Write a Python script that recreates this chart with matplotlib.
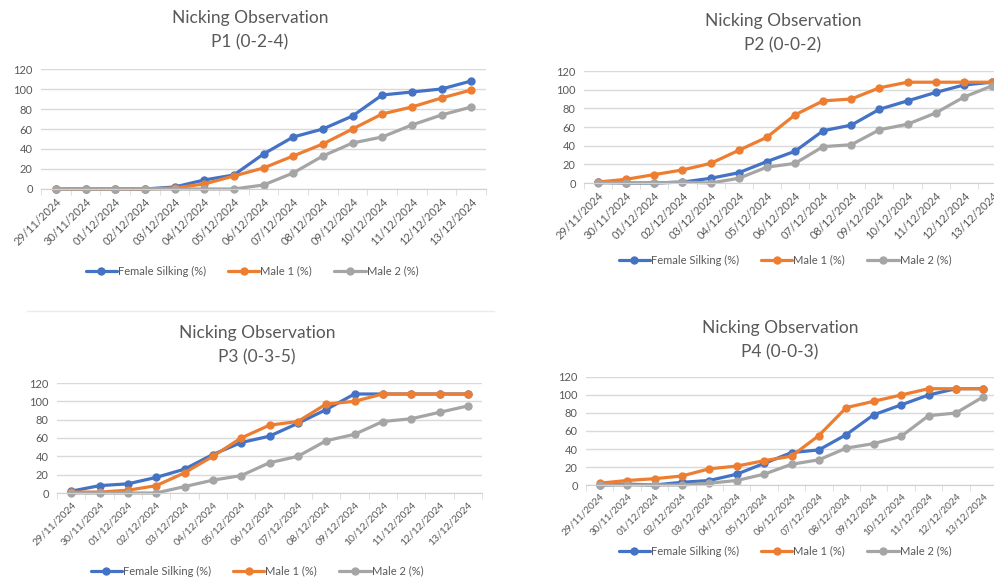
import matplotlib
matplotlib.use("Agg")
import matplotlib.pyplot as plt
from matplotlib.lines import Line2D

plt.rcParams['font.family'] = ['Lato', 'DejaVu Sans']

W, H = 994, 580

dates = ["29/11/2024", "30/11/2024", "01/12/2024", "02/12/2024", "03/12/2024",
         "04/12/2024", "05/12/2024", "06/12/2024", "07/12/2024", "08/12/2024",
         "09/12/2024", "10/12/2024", "11/12/2024", "12/12/2024", "13/12/2024"]
series_names = ["Female Silking (%)", "Male 1 (%)", "Male 2 (%)"]
yticks = [0, 20, 40, 60, 80, 100, 120]

p1_female = [0, 0, 0, 0, 2, 9, 14, 35, 52, 60, 73, 94, 97, 100, 108]
p1_male1 = [0, 0, 0, 0, 1, 5, 13, 21, 33, 45, 60, 75, 82, 91, 99]
p1_male2 = [0, 0, 0, 0, 0, 0, 0, 4, 16, 33, 46, 52, 64, 74, 82]

p2_female = [1, 0, 0, 1, 5, 11, 23, 34, 56, 62, 79, 88, 97, 105, 108]
p2_male1 = [1, 4, 9, 14, 21, 35, 49, 73, 88, 90, 102, 108, 108, 108, 108]
p2_male2 = [0, 0, 0, 1, 0, 5, 17, 21, 39, 41, 57, 63, 75, 92, 104]

p3_female = [2, 8, 10, 17, 26, 42, 55, 62, 76, 91, 108, 108, 108, 108, 108]
p3_male1 = [1, 1, 3, 8, 22, 40, 60, 74, 78, 97, 100, 108, 108, 108, 108]
p3_male2 = [0, 0, 0, 0, 7, 14, 19, 33, 40, 57, 64, 78, 81, 88, 95]

p4_female = [0, 1, 0, 3, 5, 12, 24, 36, 39, 56, 78, 89, 100, 107, 107]
p4_male1 = [2, 5, 7, 10, 18, 21, 27, 32, 55, 86, 93, 100, 107, 107, 107]
p4_male2 = [0, 0, 0, 0, 2, 5, 12, 23, 28, 41, 46, 54, 77, 80, 98]

colors = ["#4472C4", "#ED7D31", "#A5A5A5"]
text_col = "#595959"


def panel(fig, box, title, data, title_pos, legend_pos, xsize=8):
    # box = (left, right, y of 120, y of 0) in pixels from top-left
    x0, x1, ytop, ybot = box
    ax = fig.add_axes([x0 / W, 1 - ybot / H, (x1 - x0) / W, (ybot - ytop) / H])
    xs = list(range(len(dates)))
    for vals, c, name in zip(data, colors, series_names):
        ax.plot(xs, vals, color=c, lw=2.3, marker='o', ms=5, label=name,
                solid_capstyle='round', clip_on=False)
    ax.set_xlim(-0.5, len(dates) - 0.5)
    ax.set_ylim(0, 120)
    ax.set_yticks(yticks)
    ax.set_xticks(xs)
    ax.set_xticklabels(dates, rotation=45, ha='right', rotation_mode='anchor')
    ax.set_xticks([i - 0.5 for i in range(len(dates) + 1)], minor=True)
    ax.tick_params(axis='x', which='major', length=0, pad=5, labelsize=xsize,
                   labelcolor=text_col)
    ax.tick_params(axis='x', which='minor', length=4, color="#D9D9D9")
    ax.tick_params(axis='y', length=0, pad=6, labelsize=8, labelcolor=text_col)
    ax.grid(axis='y', color="#D9D9D9", lw=1)
    ax.set_axisbelow(True)
    for s in ['top', 'right', 'left']:
        ax.spines[s].set_visible(False)
    ax.spines['bottom'].set_color("#D0D0D0")
    ax.patch.set_alpha(0)

    cx, ty = title_pos
    fig.text(cx / W, 1 - ty / H, "Nicking Observation", ha='center', va='center',
             fontsize=12.5, color=text_col)
    fig.text(cx / W, 1 - (ty + 24) / H, title, ha='center', va='center',
             fontsize=12.5, color=text_col)

    lx, ly = legend_pos
    ax.legend(loc='center', bbox_to_anchor=(lx / W, 1 - ly / H),
              bbox_transform=fig.transFigure, ncol=3, frameon=False,
              fontsize=8, handlelength=2.8, handletextpad=0.1,
              columnspacing=2.0, labelcolor=text_col)
    return ax


fig = plt.figure(figsize=(W / 100, H / 100), dpi=100)

panel(fig, (41, 486, 69, 189), "P1 (0-2-4)",
      [p1_female, p1_male1, p1_male2], (250, 18), (252, 271))
panel(fig, (584, 1006, 71, 183), "P2 (0-0-2)",
      [p2_female, p2_male1, p2_male2], (783, 21), (785, 260))
panel(fig, (57, 482, 383, 493), "P3 (0-3-5)",
      [p3_female, p3_male1, p3_male2], (257, 333), (257, 571), xsize=7.5)
panel(fig, (586, 997, 377, 485), "P4 (0-0-3)",
      [p4_female, p4_male1, p4_male2], (780, 328), (785, 551), xsize=7.2)

# thin border left over from the lower-left chart frame
fig.add_artist(Line2D([27 / W, 494 / W], [1 - 311 / H, 1 - 311 / H],
                      color="#EBEBEB", lw=1))

fig.savefig("out.png", dpi=100)
